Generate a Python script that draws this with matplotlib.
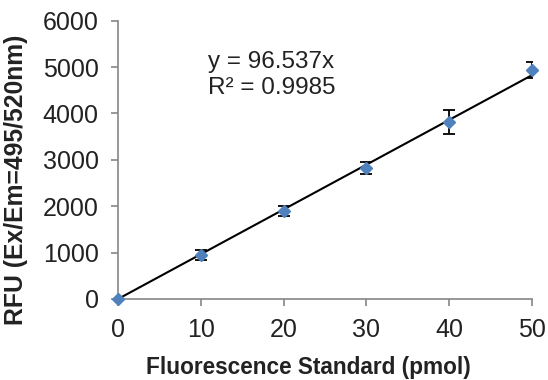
import matplotlib.pyplot as plt
import numpy as np

# fluorescence standard curve
pmol = [0, 10, 20, 30, 40, 50]
rfu = [0, 950, 1900, 2830, 3810, 4940]
rfu_err = [0, 110, 100, 130, 260, 170]
slope = 96.537
r_squared = 0.9985

plt.rcParams['font.family'] = ['Liberation Sans', 'DejaVu Sans']

fig = plt.figure(figsize=(5.48, 3.80), dpi=100)
ax = fig.add_axes([118 / 548, 1 - 299 / 380, 414 / 548, 278.3 / 380])

x_fit = np.array([0, 50])
ax.plot(x_fit, slope * x_fit, color='black', lw=1.5, zorder=2)
eb = ax.errorbar(pmol, rfu, yerr=rfu_err, fmt='D', color='#4F81BD', ms=6.5,
                 ecolor='black', elinewidth=1.3, capsize=4.2, capthick=1.3, zorder=3)
eb[0].set_clip_on(False)

ax.set_xlim(0, 50)
ax.set_ylim(0, 6000)
ax.set_xticks(range(0, 51, 10))
ax.set_yticks(range(0, 6001, 1000))
ax.tick_params(colors='#868686', labelcolor='#222222', labelsize=18, length=5, width=1.2)
ax.tick_params(axis='x', pad=9)
ax.tick_params(axis='y', pad=9)
for side in ['top', 'right']:
    ax.spines[side].set_visible(False)
for side in ['left', 'bottom']:
    ax.spines[side].set_color('#868686')
    ax.spines[side].set_linewidth(1.2)
    ax.spines[side].set_zorder(1)

ax.set_xlabel('Fluorescence Standard (pmol)', fontsize=16.3, fontweight='bold', color='#222222')
ax.xaxis.set_label_coords(0.459, -0.245)
ax.xaxis.label.set_va('center')
ax.set_ylabel('RFU (Ex/Em=495/520nm)', fontsize=17.8, fontweight='bold', color='#222222')
ax.yaxis.set_label_coords((16 - 118) / 414, (299 - 180) / 278.3)
ax.yaxis.label.set_va('center')

ax.text(0.217, 0.805, f'y = {slope}x\nR² = {r_squared}', transform=ax.transAxes,
        fontsize=17.5, color='#222222', va='center', ha='left', linespacing=1.2)

fig.savefig('out.png', dpi=100)
